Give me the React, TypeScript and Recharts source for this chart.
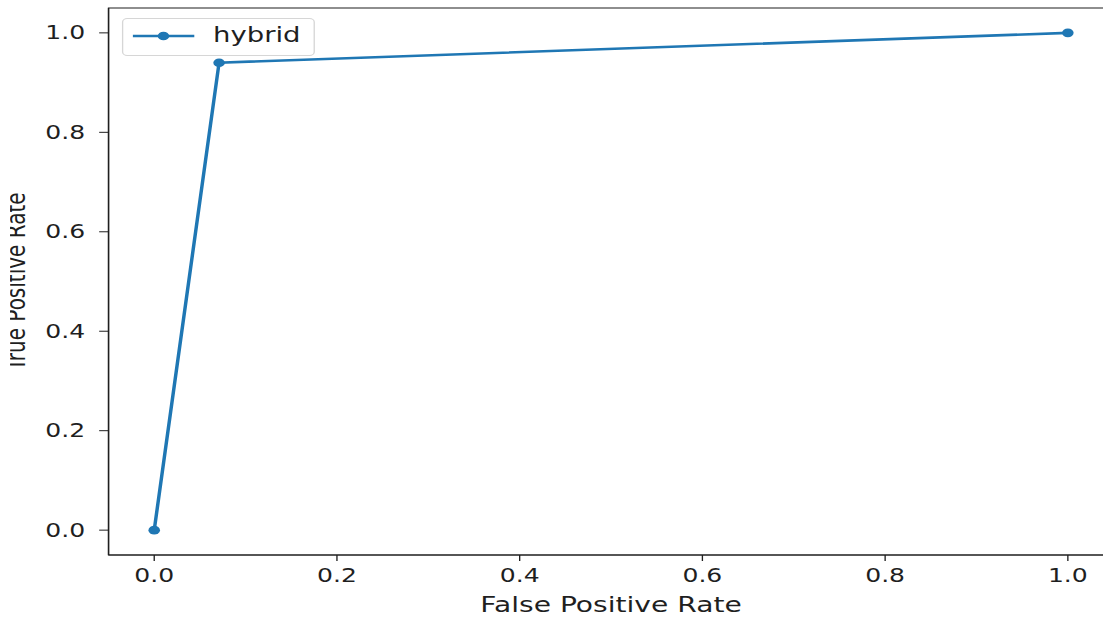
import React from 'react';
import {
  LineChart,
  Line,
  XAxis,
  YAxis,
  Legend,
  ReferenceArea,
} from 'recharts';

// ROC curve points
const fpr = [0, 0.071, 1.0];
const tpr = [0, 0.94, 1.0];
const seriesName = 'hybrid';
const xTicks = [0, 0.2, 0.4, 0.6, 0.8, 1.0];
const yTicks = [0, 0.2, 0.4, 0.6, 0.8, 1.0];
const xLabel = 'False Positive Rate';
const yLabel = 'True Positive Rate';

const data = fpr.map((x, i) => ({ fpr: x, tpr: tpr[i] }));

const BLUE = '#1f77b4';
const AXIS = '#1f1f1f';
const FONT = '"DejaVu Sans", Verdana, sans-serif';
const S = 1.34; // horizontal stretch of the original picture

const W = 841;
const H = 618;

const renderLegend = (props: any) => {
  const payload = props.payload || [];
  return (
    <div
      style={{
        width: 144,
        height: 38,
        boxSizing: 'border-box',
        border: '1px solid #d6d6d6',
        borderRadius: 4,
        background: 'rgba(255,255,255,0.8)',
        position: 'relative',
        fontFamily: FONT,
      }}
    >
      {payload.map((p: any, i: number) => (
        <div key={i} style={{ position: 'absolute', left: 0, top: 0, width: '100%', height: '100%' }}>
          <svg width={60} height={38} style={{ position: 'absolute', left: 7, top: 0 }}>
            <line x1={0} y1={17} x2={46} y2={17} stroke={p.color} strokeWidth={2.6} />
            <circle cx={23} cy={17} r={4.3} fill={p.color} />
          </svg>
          <span
            style={{
              position: 'absolute',
              left: 67,
              top: 4,
              fontSize: 20.5,
              lineHeight: '24px',
              color: AXIS,
            }}
          >
            {p.value}
          </span>
        </div>
      ))}
    </div>
  );
};

export default function App() {
  return (
    <div
      style={{
        position: 'fixed',
        left: 0,
        top: 0,
        width: 1103,
        height: 618,
        overflow: 'hidden',
        background: '#fff',
      }}
    >
      <div style={{ width: W, height: H, transform: `scaleX(${S})`, transformOrigin: '0 0' }}>
        <LineChart
          width={W}
          height={H}
          data={data}
          margin={{ top: 8, right: 10, bottom: 0, left: 0 }}
          style={{ fontFamily: FONT }}
        >
          <defs>
            <clipPath id="ylabel-clip" clipPathUnits="userSpaceOnUse">
              <rect x={7.5} y={0} width={60} height={H} />
            </clipPath>
          </defs>
          <XAxis
            dataKey="fpr"
            type="number"
            domain={[-0.05, 1.05]}
            ticks={xTicks}
            tickFormatter={(v: number) => v.toFixed(1)}
            height={63}
            tickSize={6}
            tickMargin={8}
            stroke={AXIS}
            tick={{ fill: AXIS, fontSize: 18.7, fontFamily: FONT }}
            allowDataOverflow
            label={{
              content: (lp: any) => {
                const vb = lp.viewBox || {};
                return (
                  <text
                    x={vb.x + vb.width / 2}
                    y={612}
                    textAnchor="middle"
                    fill={AXIS}
                    fontSize={21}
                    fontFamily={FONT}
                  >
                    {xLabel}
                  </text>
                );
              },
            }}
          />
          <YAxis
            dataKey="tpr"
            type="number"
            domain={[-0.05, 1.05]}
            ticks={yTicks}
            tickFormatter={(v: number) => v.toFixed(1)}
            width={81}
            tickSize={7}
            tickMargin={10.5}
            stroke={AXIS}
            tick={{ fill: AXIS, fontSize: 18.7, fontFamily: FONT }}
            allowDataOverflow
            label={{
              content: (lp: any) => {
                const vb = lp.viewBox || {};
                const cy = vb.y + vb.height / 2;
                const cx = 19;
                return (
                  <g clipPath="url(#ylabel-clip)">
                    <text
                      x={cx}
                      y={cy}
                      transform={`rotate(-90, ${cx}, ${cy})`}
                      textAnchor="middle"
                      fill={AXIS}
                      fontSize={20}
                      fontFamily={FONT}
                    >
                      {yLabel}
                    </text>
                  </g>
                );
              },
            }}
          />
          <ReferenceArea
            x1={-0.05}
            x2={1.05}
            y1={-0.05}
            y2={1.05}
            fill="none"
            stroke={AXIS}
            strokeWidth={1}
            ifOverflow="visible"
          />
          <Legend
            layout="vertical"
            align="center"
            verticalAlign="middle"
            content={renderLegend}
            wrapperStyle={{ position: 'absolute', left: 91, top: 18, width: 144, height: 38 }}
          />
          <Line
            name={seriesName}
            dataKey="tpr"
            stroke={BLUE}
            strokeWidth={2.6}
            dot={{ r: 4.3, fill: BLUE, stroke: BLUE, strokeWidth: 0 }}
            activeDot={false}
            isAnimationActive={false}
          />
        </LineChart>
      </div>
    </div>
  );
}
